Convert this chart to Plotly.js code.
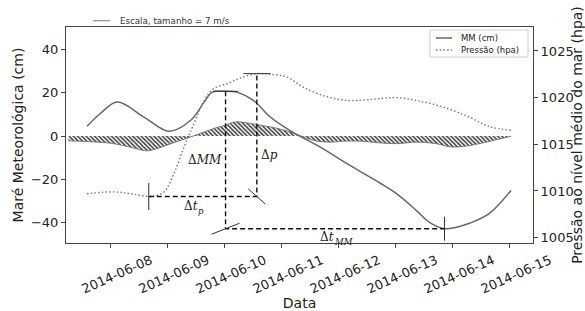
<!DOCTYPE html>
<html><head><meta charset="utf-8">
<script src="https://cdn.plot.ly/plotly-3.0.1.min.js"></script>
<style>html,body{margin:0;padding:0;background:#fff;overflow:hidden}</style>
</head><body><div id="chart" style="width:585px;height:311px"></div>
<script>
// ---- data ----
const mmDates = ['2014-06-07 14:00','2014-06-07 19:30','2014-06-08 02:45','2014-06-08 14:00','2014-06-09 00:30',
  '2014-06-09 09:40','2014-06-09 15:20','2014-06-09 18:45','2014-06-10 00:20','2014-06-10 05:00','2014-06-10 12:00',
  '2014-06-10 19:10','2014-06-11 02:10','2014-06-11 06:55','2014-06-11 16:10','2014-06-12 04:50','2014-06-12 17:30',
  '2014-06-13 00:10','2014-06-13 08:35','2014-06-13 14:10','2014-06-13 20:30','2014-06-14 01:30','2014-06-14 07:00',
  '2014-06-14 15:25','2014-06-15 00:30'];
const mmValues = [4.5,10.3,15.7,8.8,2.2,7.3,15.7,20.3,20.7,20.3,16.5,8.8,3.4,0.3,-5.1,-13.7,-21.8,-26.5,-34.3,-39.9,-42.8,-42.1,-40.3,-35.7,-25.1];

const pressureDates = ['2014-06-07 14:00','2014-06-08 01:20','2014-06-08 08:30','2014-06-08 16:00','2014-06-08 19:00',
  '2014-06-08 22:30','2014-06-09 02:40','2014-06-09 06:50','2014-06-09 11:00','2014-06-09 15:20','2014-06-09 19:00',
  '2014-06-10 02:00','2014-06-10 06:30','2014-06-10 13:30','2014-06-10 19:10','2014-06-11 02:10','2014-06-11 09:10',
  '2014-06-11 19:00','2014-06-12 03:25','2014-06-12 11:10','2014-06-12 17:30','2014-06-13 00:10','2014-06-13 08:35',
  '2014-06-13 19:50','2014-06-14 07:00','2014-06-14 15:25','2014-06-15 00:30'];
const pressureValues = [1009.7,1009.9,1009.7,1009.4,1009.5,1009.9,1011.9,1014.7,1017.2,1019.7,1020.9,1021.6,1022.1,
  1022.57,1022.5,1022.2,1021.1,1020.1,1019.7,1019.75,1019.9,1020.0,1019.7,1019.0,1017.9,1016.9,1016.5];

// tips of the wind sticks (envelope of the quiver), in cm-axis units
const windDates = ['2014-06-07 06:10','2014-06-07 18:15','2014-06-08 01:20','2014-06-08 08:25','2014-06-08 13:35',
  '2014-06-08 15:45','2014-06-08 19:30','2014-06-09 01:20','2014-06-09 06:50','2014-06-09 10:40','2014-06-09 19:05',
  '2014-06-09 23:45','2014-06-10 04:20','2014-06-10 09:25','2014-06-10 15:45','2014-06-10 22:00','2014-06-11 03:30',
  '2014-06-11 08:10','2014-06-11 13:15','2014-06-11 19:10','2014-06-12 03:35','2014-06-12 09:50','2014-06-12 16:35',
  '2014-06-13 00:10','2014-06-13 08:35','2014-06-13 17:00','2014-06-13 23:00','2014-06-14 04:25','2014-06-14 09:55',
  '2014-06-14 17:05','2014-06-15 00:30'];
const windTips = [-2.2,-2.8,-3.5,-5.2,-6.6,-6.8,-5.8,-3.5,-1.5,0,3.4,4.9,6.5,6.1,4.9,3.6,1.9,0,-2.0,-2.8,-2.3,-2.4,-3.1,
  -3.5,-2.8,-3.5,-5.0,-4.8,-3.8,-2.0,-0.1];

const xTickDates = ['2014-06-08','2014-06-09','2014-06-10','2014-06-11','2014-06-12','2014-06-13','2014-06-14','2014-06-15'];
const xTickLabels = ['2014-06-08','2014-06-09','2014-06-10','2014-06-11','2014-06-12','2014-06-13','2014-06-14','2014-06-15'];
const yTickVals = [-40,-20,0,20,40];
const yTickLabels = ['\u221240','\u221220','0','20','40'];
const y2TickVals = [1005,1010,1015,1020,1025];
const y2TickLabels = ['1005','1010','1015','1020','1025'];

// ---- helpers ----
const toMs = s => Date.parse(s.replace(' ','T')+':00Z');
const fromMs = ms => new Date(ms).toISOString().slice(0,16).replace('T',' ');
const idxMax = a => a.indexOf(Math.max(...a));
const idxMin = a => a.indexOf(Math.min(...a));

const iMMmax = idxMax(mmValues), iMMmin = idxMin(mmValues);
const iPmax = idxMax(pressureValues), iPmin = idxMin(pressureValues);
const tMMmax = mmDates[iMMmax], tMMmin = mmDates[iMMmin];
const mmMax = mmValues[iMMmax], mmMin = mmValues[iMMmin];
const tPmax = pressureDates[iPmax], tPmin = pressureDates[iPmin];
const pMax = pressureValues[iPmax], pMin = pressureValues[iPmin];
const tMidP = fromMs((toMs(tPmin)+toMs(tPmax))/2);
const tMidMM = fromMs((toMs(tMMmax)+toMs(tMMmin))/2);

const dashStyle = {color:'#111', width:1.4, dash:'5px,3px'};
const markLine = {color:'#333', width:1};

// pixel-sized tick marks anchored at data points
function tick(t, v, yref, x0, y0, x1, y1) {
  return {type:'line', xref:'x', yref:yref, xsizemode:'pixel', ysizemode:'pixel',
          xanchor:t, yanchor:v, x0:x0, y0:y0, x1:x1, y1:y1, line:markLine};
}

const traces = [
  {x: windDates, y: windTips, type:'scatter', mode:'lines', line:{color:'#666', width:0.8, shape:'spline'},
   fill:'tozeroy', fillcolor:'rgba(110,110,110,0.35)',
   fillpattern:{shape:'\\', fgcolor:'#3a3a3a', bgcolor:'rgba(0,0,0,0)', size:3, solidity:0.5},
   showlegend:false, hoverinfo:'skip'},
  {x: mmDates, y: mmValues, type:'scatter', mode:'lines', name:'MM (cm)',
   line:{color:'#666', width:1.5, shape:'spline', smoothing:1}},
  {x: pressureDates, y: pressureValues, type:'scatter', mode:'lines', name:'Pressão (hpa)', yaxis:'y2',
   line:{color:'#777', width:1.4, dash:'1.5px,2.2px', shape:'spline', smoothing:1}},
  {x: [tMMmax, tMMmax, tMMmin], y: [mmMax, mmMin, mmMin], type:'scatter', mode:'lines',
   line: dashStyle, showlegend:false, hoverinfo:'skip'},
  {x: [tPmin, tPmax, tPmax], y: [pMin, pMin, pMax], type:'scatter', mode:'lines', yaxis:'y2',
   line: dashStyle, showlegend:false, hoverinfo:'skip'}
];

const mathFont = {family:'DejaVu Serif', size:12, color:'#222'};
const subFont = {family:'DejaVu Serif', size:8.5, color:'#222'};
const font = {family:'DejaVu Sans', size:13, color:'#222'};
const axLine = '#444';
const legFont = {family:'DejaVu Sans', size:8.5, color:'#222'};

const layout = {
  width:585, height:311,
  margin:{l:66, r:52, t:27, b:68, pad:0},
  paper_bgcolor:'#fff', plot_bgcolor:'#fff',
  font: font,
  showlegend:false,
  xaxis:{type:'date', range:['2014-06-07 05:10','2014-06-15 09:45'], tickmode:'array', tickvals:xTickDates, ticktext:xTickLabels,
         tickangle:-24, ticklabelshift:40, ticks:'outside', ticklen:4, tickcolor:axLine, showgrid:false, zeroline:false,
         showline:true, mirror:true, linecolor:axLine, linewidth:1, tickfont:{family:'DejaVu Sans', size:13, color:'#222'},
         title:{text:'Data', font:{family:'DejaVu Sans', size:14, color:'#222'}, standoff:0}},
  yaxis:{range:[-49.4,50.4], tickmode:'array', tickvals:yTickVals, ticktext:yTickLabels, ticks:'outside', ticklen:4,
         tickcolor:axLine, showgrid:false, zeroline:false, showline:true, linecolor:axLine, linewidth:1,
         tickfont:{family:'DejaVu Sans', size:13, color:'#222'},
         title:{text:'Maré Meteorológica (cm)', font:{family:'DejaVu Sans', size:14, color:'#222'}, standoff:4}},
  yaxis2:{overlaying:'y', side:'right', range:[1004.42,1027.57], tickmode:'array', tickvals:y2TickVals, ticktext:y2TickLabels,
          ticks:'outside', ticklen:4, tickcolor:axLine, showgrid:false, zeroline:false, showline:true, linecolor:axLine, linewidth:1,
          tickfont:{family:'DejaVu Sans', size:13, color:'#222'},
          title:{text:'Pressão ao nível médio do mar (hpa)', font:{family:'DejaVu Sans', size:14, color:'#222'}, standoff:3}},
  shapes:[
    // quiver key
    {type:'line', xref:'paper', yref:'paper', x0:0.058, x1:0.094, y0:1.029, y1:1.029, line:{color:'#777', width:1}},
    // legend box and samples
    {type:'rect', xref:'paper', yref:'paper', x0:0.7794, x1:0.9893, y0:0.8611, y1:0.9861,
     line:{color:'#ccc', width:1}, fillcolor:'rgba(255,255,255,0.85)'},
    {type:'line', xref:'paper', yref:'paper', x0:0.7923, x1:0.8266, y0:0.9491, y1:0.9491, line:{color:'#666', width:1.5}},
    {type:'line', xref:'paper', yref:'paper', x0:0.7923, x1:0.8266, y0:0.8935, y1:0.8935,
     line:{color:'#777', width:1.4, dash:'1.5px,2.2px'}},
    // construction tick marks, anchored at the data extremes
    tick(tMMmax, mmMax, 'y', -12.5, 0, 12.5, 0),
    tick(tMMmax, mmMin, 'y', -14, -5.5, 14, 5.5),
    tick(tMMmin, mmMin, 'y', 0, -12, 0, 12),
    tick(tPmin, pMin, 'y2', 0, -13.5, 0, 13.5),
    tick(tPmax, pMin, 'y2', -8.5, 7.5, 8.5, -7.5),
    tick(tPmax, pMax, 'y2', -13.5, 0, 13.5, 0)
  ],
  annotations:[
    {xref:'paper', yref:'paper', x:0.111, y:1.029, xanchor:'left', yanchor:'middle', showarrow:false,
     text:'Escala, tamanho = 7 m/s', font:{family:'DejaVu Sans', size:8.7, color:'#333'}},
    {xref:'paper', yref:'paper', x:0.8415, y:0.9491, xanchor:'left', yanchor:'middle', showarrow:false,
     text:'MM (cm)', font:legFont},
    {xref:'paper', yref:'paper', x:0.8415, y:0.8935, xanchor:'left', yanchor:'middle', showarrow:false,
     text:'Pressão (hpa)', font:legFont},
    {xref:'x', yref:'y', x:tMMmax, y:(mmMax+mmMin)/2, xshift:-21, xanchor:'center', yanchor:'middle', showarrow:false,
     text:'Δ<i>MM</i>', font:mathFont},
    {xref:'x', yref:'y2', x:tPmax, y:(pMax+pMin)/2, xshift:13, yshift:-20, xanchor:'center', yanchor:'middle', showarrow:false,
     text:'Δ<i>p</i>', font:mathFont},
    // Δt_p
    {xref:'x', yref:'y2', x:tMidP, y:pMin, xshift:-21, yshift:-9, xanchor:'left', yanchor:'middle',
     showarrow:false, text:'Δ<i>t</i>', font:mathFont},
    {xref:'x', yref:'y2', x:tMidP, y:pMin, xshift:-7, yshift:-14, xanchor:'left', yanchor:'middle',
     showarrow:false, text:'<i>p</i>', font:subFont},
    // Δt_MM
    {xref:'x', yref:'y', x:tMidMM, y:mmMin, xshift:-17, yshift:-8, xanchor:'left', yanchor:'middle',
     showarrow:false, text:'Δ<i>t</i>', font:mathFont},
    {xref:'x', yref:'y', x:tMidMM, y:mmMin, xshift:-3, yshift:-13, xanchor:'left', yanchor:'middle',
     showarrow:false, text:'<i>MM</i>', font:subFont}
  ]
};

Plotly.newPlot('chart', traces, layout, {staticPlot:true, displayModeBar:false});
</script></body></html>
